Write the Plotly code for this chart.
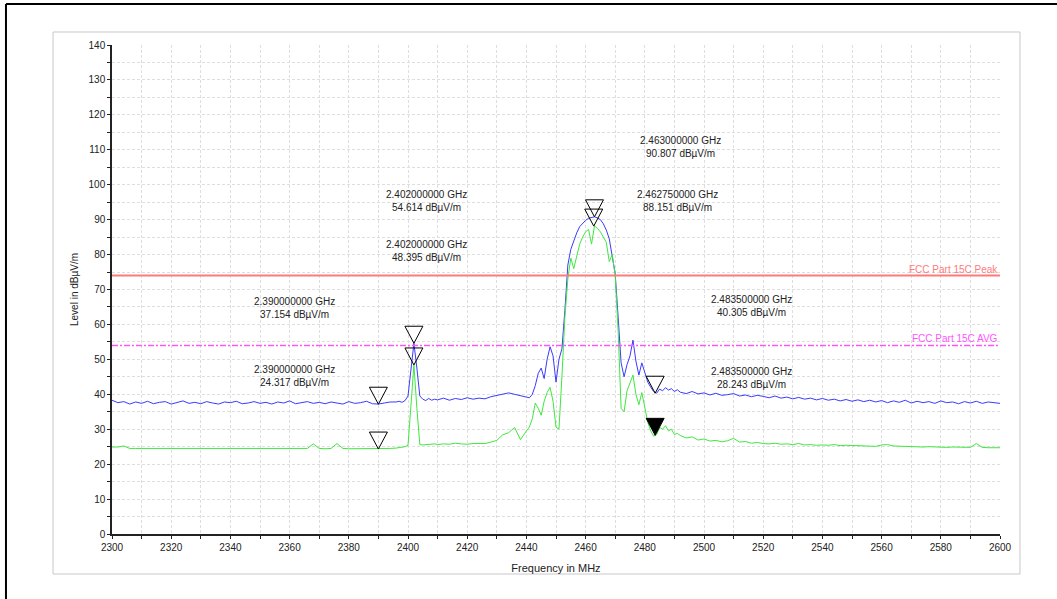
import plotly.graph_objects as go

# ---------------- data ----------------
freq_mhz = (list(range(2300, 2396, 2)) + list(range(2396, 2410, 1)) +
            list(range(2410, 2440, 2)) + list(range(2440, 2492, 1)) +
            list(range(2492, 2601, 2)))

peak_dbuv = [
    38.3, 37.6, 37.9, 37.2, 37.8, 37.4, 38.0, 37.3,
    37.7, 37.9, 37.2, 37.6, 38.1, 37.4, 37.7, 37.3,
    37.9, 37.5, 37.2, 37.8, 37.6, 38.0, 37.3, 37.5,
    37.9, 37.4, 37.7, 37.2, 37.8, 37.5, 38.1, 37.3,
    37.6, 37.9, 37.4, 37.7, 37.3, 37.8, 37.5, 37.2,
    37.9, 37.4, 37.6, 38.0, 37.3, 37.2, 37.5, 37.8,
    # 2396-2409
    37.8, 38.0, 37.7, 38.2, 39.5, 47.0, 54.6, 47.5, 39.5, 38.6, 38.2, 38.8, 38.3, 38.6,
    # 2410-2438
    38.4, 38.9, 38.3, 38.8, 38.5, 39.0, 38.6, 38.9, 38.7, 39.3, 39.6, 40.1, 40.4, 40.0, 39.7,
    # 2440-2491
    39.2, 39.0, 40.0, 42.5, 46.0, 47.5, 44.5, 50.0, 53.6, 51.0,
    43.5, 50.0, 53.0, 64.0, 77.0, 81.5, 84.0, 86.2, 88.0, 89.0,
    89.8, 90.4, 90.6, 90.8, 90.5, 90.0, 88.8, 87.0, 84.5, 80.0,
    74.5, 62.0, 49.0, 45.0, 48.5, 51.0, 55.5, 49.5, 45.5, 49.0,
    46.5, 43.5, 42.0, 40.8, 40.3, 41.5, 41.0, 41.9, 41.2, 41.6,
    40.8, 41.3,
    # 2492-2600
    40.6, 40.2, 40.8, 40.1, 40.4, 39.8, 40.3, 39.7,
    39.9, 40.2, 39.5, 39.8, 39.3, 39.7, 39.4, 39.0,
    39.5, 38.9, 39.2, 38.7, 39.1, 38.6, 38.9, 38.4,
    38.8, 38.3, 38.6, 38.1, 38.5, 38.0, 38.4, 37.9,
    38.3, 37.8, 38.2, 37.6, 38.1, 37.7, 38.3, 37.5,
    38.0, 37.6, 37.9, 37.4, 38.1, 37.6, 37.8, 37.3,
    37.9, 37.5, 38.0, 37.4, 37.8, 37.6, 37.4,
]

avg_dbuv = [
    24.9, 24.9, 25.2, 24.5, 24.5, 24.5, 24.5, 24.4,
    24.4, 24.5, 24.4, 24.4, 24.5, 24.4, 24.4, 24.5,
    24.4, 24.4, 24.5, 24.4, 24.4, 24.6, 24.4, 24.4,
    24.5, 24.4, 24.4, 24.5, 24.4, 24.4, 24.5, 24.4,
    24.4, 24.5, 25.8, 24.5, 24.4, 24.5, 25.9, 24.5,
    24.4, 24.4, 24.5, 24.4, 24.4, 24.3, 24.4, 24.5,
    # 2396-2409
    24.6, 24.7, 24.8, 25.0, 25.4, 36.0, 48.4, 36.0, 25.6, 25.5, 25.6, 25.7, 25.6, 25.8,
    # 2410-2438
    25.6, 25.8, 25.7, 26.0, 25.8, 25.7, 25.9, 25.8, 25.9, 26.3, 26.8, 28.4, 29.0, 30.5, 27.0,
    # 2440-2491
    29.5, 30.6, 33.0, 37.5, 36.0, 34.0, 38.0, 40.5, 42.0, 38.0,
    30.6, 30.0, 45.0, 62.0, 73.0, 79.0, 76.0, 80.0, 83.0, 85.0,
    86.5, 87.2, 83.0, 88.2, 87.5, 86.5, 85.0, 83.5, 78.0, 80.0,
    74.0, 58.0, 36.0, 35.0, 41.0, 43.0, 45.5, 40.0, 37.0, 40.5,
    36.0, 32.0, 29.5, 28.0, 28.5, 30.5, 30.0, 31.0, 29.5, 30.0,
    28.5, 28.8,
    # 2492-2600
    28.2, 27.5, 27.8, 26.9, 27.2, 26.6, 26.8, 26.4,
    26.7, 27.4, 26.3, 26.5, 26.0, 26.2, 25.9, 25.8,
    26.0, 25.7, 25.8, 25.6, 25.9, 25.5, 25.6, 25.4,
    25.5, 25.4, 25.6, 25.3, 25.4, 25.3, 25.2, 25.3,
    25.2, 25.1, 25.5, 25.6, 25.2, 25.1, 25.0, 25.1,
    25.0, 24.9, 25.0, 24.9, 24.9, 24.8, 24.9, 24.8,
    24.8, 24.8, 25.9, 24.8, 24.7, 24.7, 24.7,
]

limit_peak = 74
limit_avg = 54
limit_peak_name = "FCC Part 15C Peak"
limit_avg_name = "FCC Part 15C AVG"

marker_freq = [2463.0, 2462.75, 2402.0, 2402.0, 2390.0, 2390.0, 2483.5, 2483.5]
marker_level = [90.807, 88.151, 54.614, 48.395, 37.154, 24.317, 40.305, 28.243]
marker_active = [False, False, False, False, False, False, False, True]

x_ticks = list(range(2300, 2601, 20))
y_ticks = list(range(0, 141, 10))

# label placement (style): centre of each two-line label, in axis units
label_x = [2491.9, 2490.9, 2406.1, 2406.4, 2361.5, 2361.5, 2516.2, 2516.2]
label_y = [110.8, 95.2, 95.2, 80.9, 64.6, 45.2, 65.4, 44.8]

FONT = "Liberation Sans, Arial, sans-serif"
BLUE = "#3a3aff"
GREEN = "#3ee83e"
RED = "#ff7a7a"
MAGENTA = "#ff55ff"
GRID = "#dedede"

fig = go.Figure()
fig.add_trace(go.Scatter(x=freq_mhz, y=peak_dbuv, mode="lines",
                         line=dict(color=BLUE, width=1), hoverinfo="skip"))
fig.add_trace(go.Scatter(x=freq_mhz, y=avg_dbuv, mode="lines",
                         line=dict(color=GREEN, width=1), hoverinfo="skip"))
fig.add_trace(go.Scatter(x=[x_ticks[0], x_ticks[-1]], y=[limit_peak, limit_peak],
                         mode="lines", line=dict(color=RED, width=2), hoverinfo="skip"))
fig.add_trace(go.Scatter(x=[x_ticks[0], x_ticks[-1]], y=[limit_avg, limit_avg],
                         mode="lines", line=dict(color=MAGENTA, width=1.5, dash="6px,2px,2px,2px"),
                         hoverinfo="skip"))

shapes = []
for f, v, act in zip(marker_freq, marker_level, marker_active):
    shapes.append(dict(type="path", xref="x", yref="y", xsizemode="pixel", ysizemode="pixel",
                       xanchor=f, yanchor=v, path="M -9 17 L 9 17 L 0 0 Z",
                       line=dict(color="black", width=1),
                       fillcolor="black" if act else "rgba(255,255,255,0)", layer="above"))

# frames
shapes.append(dict(type="rect", xref="paper", yref="paper", x0=-0.0664, x1=1.0225,
                   y0=-0.0818, y1=1.0266, line=dict(color="#c8c8c8", width=1), layer="below"))
shapes.append(dict(type="line", xref="paper", yref="paper", x0=-0.1194, x1=1.07,
                   y0=1.0838, y1=1.0838, line=dict(color="black", width=2)))
shapes.append(dict(type="line", xref="paper", yref="paper", x0=-0.1194, x1=-0.1194,
                   y0=1.0838, y1=-0.135, line=dict(color="black", width=2)))

annotations = []
for f, v, lx, ly in zip(marker_freq, marker_level, label_x, label_y):
    annotations.append(dict(x=lx, y=ly, xref="x", yref="y", showarrow=False,
                            text=f"{f/1000:.9f} GHz<br>{v:.3f} dBµV/m",
                            font=dict(family=FONT, size=10, color="#222"),
                            xanchor="center", yanchor="middle", align="center"))
annotations.append(dict(x=x_ticks[-1], y=limit_peak, xref="x", yref="y", showarrow=False,
                        text=limit_peak_name, font=dict(family=FONT, size=10, color=RED),
                        xanchor="right", yanchor="bottom", yshift=-1))
annotations.append(dict(x=x_ticks[-1], y=limit_avg, xref="x", yref="y", showarrow=False,
                        text=limit_avg_name, font=dict(family=FONT, size=10, color=MAGENTA),
                        xanchor="right", yanchor="bottom", yshift=-1))

grid = dict(showgrid=True, gridcolor=GRID, gridwidth=1, griddash="3px,2px")

fig.update_layout(
    width=1057, height=599,
    margin=dict(l=112, r=57, t=45, b=65),
    paper_bgcolor="white", plot_bgcolor="white",
    showlegend=False,
    font=dict(family=FONT, size=10, color="#222"),
    shapes=shapes, annotations=annotations,
    xaxis=dict(range=[x_ticks[0], x_ticks[-1]], tickmode="array", tickvals=x_ticks,
               showline=True, linecolor="#222", linewidth=1.5, ticks="outside",
               ticklen=3, tickcolor="#222", tickfont=dict(family=FONT, size=10),
               zeroline=False, **grid,
               minor=dict(dtick=10, ticks="outside", ticklen=3, tickcolor="#222",
                          showgrid=True, gridcolor=GRID, griddash="3px,2px"),
               title=dict(text="Frequency in MHz", font=dict(family=FONT, size=11),
                          standoff=13)),
    yaxis=dict(range=[y_ticks[0], y_ticks[-1]], tickmode="array", tickvals=y_ticks,
               showline=True, linecolor="#222", linewidth=1.5, ticks="outside",
               ticklen=3, tickcolor="#222", tickfont=dict(family=FONT, size=10),
               zeroline=False, **grid,
               minor=dict(dtick=5, ticks="outside", ticklen=3, tickcolor="#222",
                          showgrid=True, gridcolor=GRID, griddash="3px,2px"),
               title=dict(text="Level in dBµV/m", font=dict(family=FONT, size=10),
                          standoff=8)),
)

fig.write_html("out.html", config={"displayModeBar": False},
               post_script="document.body.style.margin='0';document.body.style.overflow='hidden';")
